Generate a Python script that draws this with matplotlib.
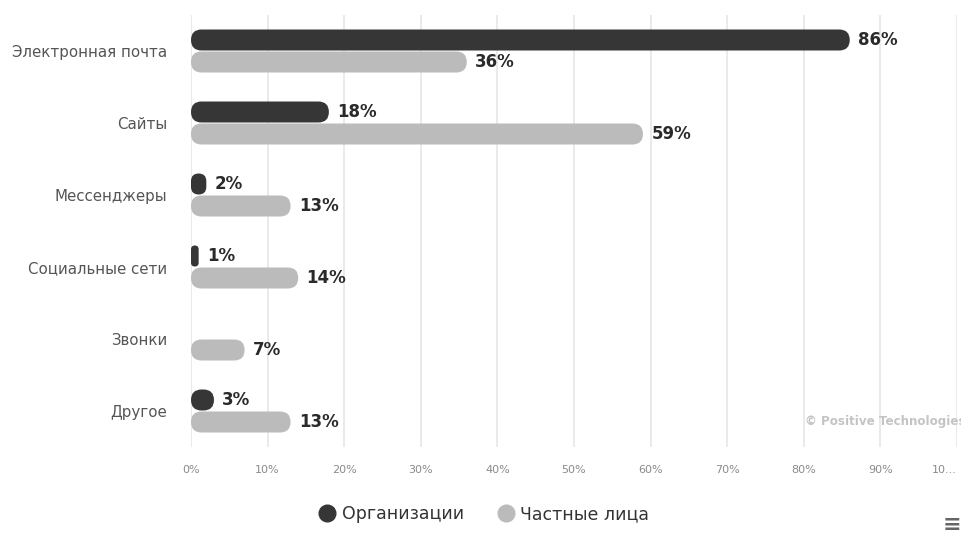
import numpy as np
import matplotlib
matplotlib.use('Agg')
import matplotlib.pyplot as plt
from matplotlib.patches import FancyBboxPatch
from matplotlib.lines import Line2D

# Data
categories = ['Электронная почта', 'Сайты', 'Мессенджеры', 'Социальные сети', 'Звонки', 'Другое']
organizations = [86, 18, 2, 1, np.nan, 3]
individuals = [36, 59, 13, 14, 7, 13]
series_names = ['Организации', 'Частные лица']
tick_values = list(range(0, 101, 10))
tick_labels = ['0%', '10%', '20%', '30%', '40%', '50%', '60%', '70%', '80%', '90%', '10...']

dark = '#363636'
light = '#bbbbbb'

W, H = 962, 534
fig = plt.figure(figsize=(W / 100, H / 100), dpi=100)
ax = fig.add_axes([191 / W, (H - 447) / H, 766 / W, 432 / H])
ax.set_xlim(0, 100)
ax.set_ylim(len(categories) - 0.5, -0.5)

# data units per pixel, for round ends that stay circular on screen
x_per_px = 100 / 766
y_per_px = len(categories) / 432
aspect = y_per_px / x_per_px

bar_h = 21 * y_per_px
offset = 11 * y_per_px


def rounded_bar(ax, y, value, color):
    if np.isnan(value) or value <= 0:
        return
    h_scaled = bar_h / aspect
    r = min(h_scaled / 2, value / 2)
    patch = FancyBboxPatch((0, y - bar_h / 2), value, bar_h,
                           boxstyle=f'round,pad=0,rounding_size={r}',
                           mutation_aspect=aspect, facecolor=color,
                           edgecolor='none', zorder=3)
    ax.add_patch(patch)
    ax.annotate(f'{value:g}%', xy=(value, y), xytext=(6, 0),
                textcoords='offset points', va='center', ha='left',
                fontsize=12, fontweight='bold', color='#2a2a2a', zorder=4)


for i in range(len(categories)):
    rounded_bar(ax, i - offset, organizations[i], dark)
    rounded_bar(ax, i + offset, individuals[i], light)

# Axes styling
for s in ax.spines.values():
    s.set_visible(False)
ax.set_xticks(tick_values)
ax.set_xticklabels(tick_labels, fontsize=8, color='#8a8a8a')
ax.get_xticklabels()[-1].set_horizontalalignment('right')
ax.set_yticks(range(len(categories)))
ax.set_yticklabels(categories, fontsize=10.8, color='#555555')
ax.tick_params(axis='x', length=0, pad=13)
ax.tick_params(axis='y', length=0, pad=17)
ax.grid(axis='x', color='#e6e6e6', linewidth=1.2, zorder=0)
ax.set_axisbelow(True)

# Legend
handles = [Line2D([], [], marker='o', linestyle='none', markersize=12,
                  markerfacecolor=c, markeredgecolor=c) for c in (dark, light)]
fig.legend(handles, series_names, loc='center', bbox_to_anchor=(484 / W, 1 - 514 / H),
           ncol=2, frameon=False, fontsize=12.5, labelcolor='#333333',
           handletextpad=0.35, columnspacing=1.9, handlelength=1.0)

# Watermark and menu icon
fig.text(805 / W, 1 - 421 / H, '© Positive Technologies', fontsize=8.6,
         fontweight='bold', color='#c4c4c4', ha='left', va='center')
fig.text(952 / W, 1 - 525 / H, '≡', fontsize=16, fontweight='bold',
         color='#666666', ha='center', va='center')

fig.savefig('out.png', dpi=100)
